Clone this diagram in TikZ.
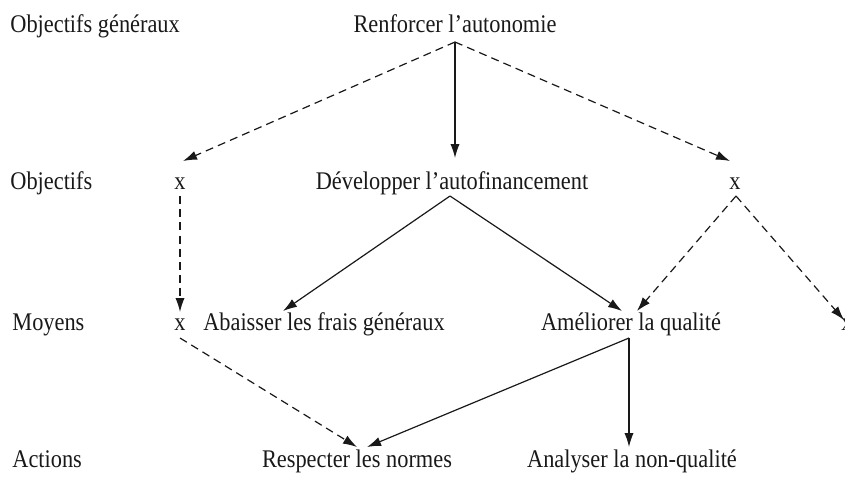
\documentclass[tikz,border=0pt]{standalone}
\usepackage{fontspec}
\setmainfont{Liberation Serif}[FakeStretch=0.88]
\usetikzlibrary{arrows.meta,calc}
\begin{document}
\begin{tikzpicture}[x=0.5pt,y=-0.5pt,
  txt/.style={inner sep=0pt,anchor=base,font=\fontsize{12.7}{14}\selectfont,text=black!90},
  lbl/.style={txt,anchor=base west},
  conn/.style={line width=0.6pt,draw=black!90,-{Latex[length=7pt,width=4.6pt]}},
  dconn/.style={conn,dash pattern=on 4pt off 2.6pt}]
\useasboundingbox (0,0) rectangle (845,495);
\node[lbl] (l1) at (10,32) {Objectifs généraux};
\node[lbl] (l2) at (10,189) {Objectifs};
\node[lbl] (l3) at (12,330) {Moyens};
\node[lbl] (l4) at (12,467) {Actions};
\node[txt] (ren) at (455,32) {Renforcer l’autonomie};
\node[txt] (xa) at (180,189) {x};
\node[txt] (dev) at (452,189) {Développer l’autofinancement};
\node[txt] (xb) at (735,189) {x};
\node[txt] (xc) at (180,330) {x};
\node[txt] (aba) at (324,330) {Abaisser les frais généraux};
\node[txt] (ame) at (631,330) {Améliorer la qualité};
\node[txt] (xd) at (847,330) {x};
\node[txt] (res) at (357,467) {Respecter les normes};
\node[txt] (ana) at (632,467) {Analyser la non-qualité};
% connectors
\draw[conn] ($(ren.base)+(0,10)$) -- ($(dev.base)+(3,-31)$);
\draw[dconn] ($(ren.base)+(0,10)$) -- ($(xa.base)+(3,-28)$);
\draw[dconn] ($(ren.base)+(0,10)$) -- ($(xb.base)+(-5,-28)$);
\draw[conn] ($(dev.base)+(-2,7)$) -- ($(aba.base)+(-41,-19)$);
\draw[conn] ($(dev.base)+(-2,7)$) -- ($(ame.base)+(-9,-19)$);
\draw[dconn] ($(xa.base)+(0,7)$) -- ($(xc.base)+(0,-18)$);
\draw[dconn] ($(xb.base)+(1,7)$) -- ($(ame.base)+(6,-19)$);
\draw[dconn] ($(xb.base)+(1,7)$) -- ($(xd.base)+(-3,-10)$);
\draw[dconn] ($(xc.base)+(0,8)$) -- ($(res.base)+(0,-20)$);
\draw[conn] ($(ame.base)+(-2,8)$) -- ($(res.base)+(10,-20)$);
\draw[conn] ($(ame.base)+(-2,8)$) -- ($(ana.base)+(-3,-20)$);
\end{tikzpicture}
\end{document}
